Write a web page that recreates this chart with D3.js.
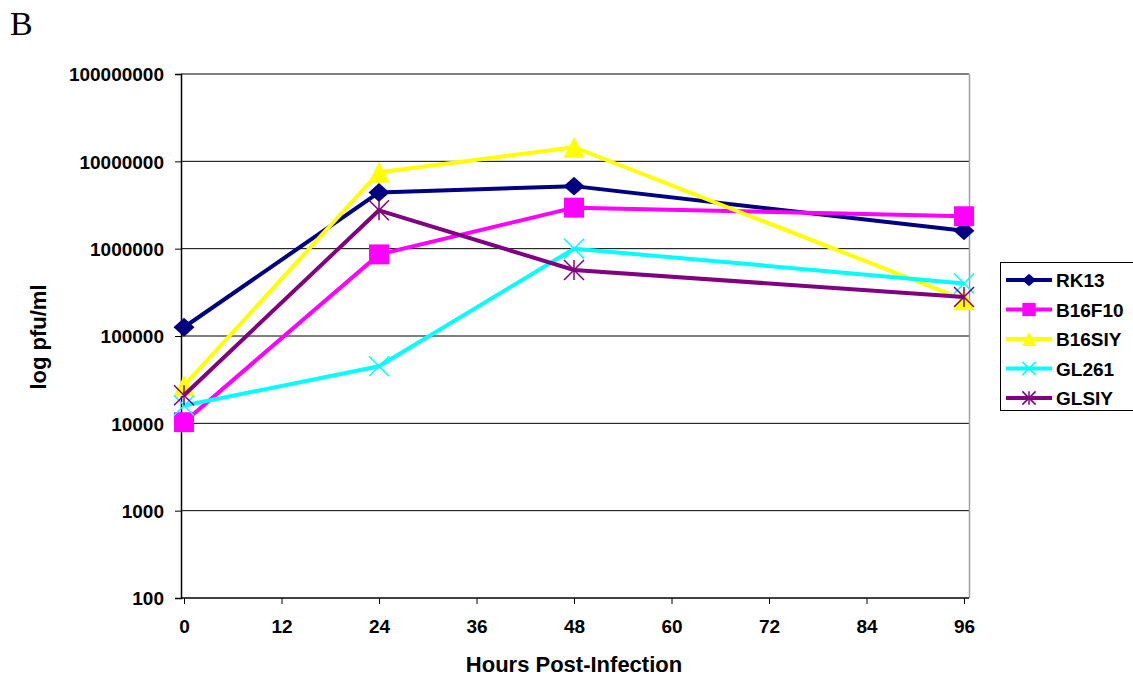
<!DOCTYPE html>
<html>
<head>
<meta charset="utf-8">
<script src="https://cdn.jsdelivr.net/npm/d3@7"></script>
<style>
  body { margin: 0; background: #fff; }
  text { font-family: "Liberation Sans", Arial, sans-serif; font-weight: bold; fill: #000; }
</style>
</head>
<body>
<svg id="chart" width="1133" height="678"></svg>
<script>
// data
var hours = [0, 24, 48, 96];
var seriesNames = ["RK13", "B16F10", "B16SIY", "GL261", "GLSIY"];
var seriesColors = ["#000080", "#ff00ff", "#ffff00", "#00ffff", "#800080"];
var seriesMarkers = ["diamond", "square", "triangle", "cross", "star"];
var rk13 = [126000, 4400000, 5200000, 1600000];
var b16f10 = [10300, 860000, 2950000, 2350000];
var b16siy = [27000, 7500000, 14500000, 260000];
var gl261 = [16000, 45000, 1000000, 400000];
var glsiy = [21000, 2750000, 570000, 280000];
var seriesValues = [rk13, b16f10, b16siy, gl261, glsiy];
var xTicks = [0, 12, 24, 36, 48, 60, 72, 84, 96];
var yTicks = [100, 1000, 10000, 100000, 1000000, 10000000, 100000000];

var svg = d3.select("#chart");

var x = d3.scaleLinear().domain([0, 96]).range([184, 964]);
var y = d3.scaleLog().domain([100, 100000000]).range([598, 74]);
var plotLeft = 181, plotRight = 969;

// panel letter
svg.append("text")
	.attr("x", 10).attr("y", 35)
	.style("font-family", "'Liberation Serif', 'Times New Roman', serif")
	.style("font-weight", "normal")
	.style("font-size", "34px")
	.text("B");

// gridlines
svg.append("g").selectAll("line")
	.data(yTicks.slice(1))
	.enter().append("line")
	.attr("x1", plotLeft).attr("x2", plotRight)
	.attr("y1", function(d) { return y(d); })
	.attr("y2", function(d) { return y(d); })
	.attr("stroke", "#000").attr("stroke-width", 1);

// right border of plot area
svg.append("line")
	.attr("x1", plotRight + 0.5).attr("x2", plotRight + 0.5)
	.attr("y1", y(1e8)).attr("y2", y(100))
	.attr("stroke", "#a0a0a0").attr("stroke-width", 1.5);

// y axis
var yAxis = d3.axisLeft(y)
	.tickValues(yTicks)
	.tickFormat(d3.format("d"))
	.tickSize(6)
	.tickPadding(11);
var gy = svg.append("g").attr("transform", "translate(" + plotLeft + ",0)").call(yAxis);
gy.select(".domain").attr("stroke", "#000").attr("stroke-width", 1.5);
gy.selectAll(".tick line").attr("stroke", "#000");
gy.selectAll(".tick text")
	.style("font-size", "19px")
	.attr("dy", "0.36em");

// x axis
var xAxis = d3.axisBottom(x)
	.tickValues(xTicks)
	.tickSizeInner(6)
	.tickSizeOuter(0)
	.tickPadding(16);
var gx = svg.append("g").attr("transform", "translate(0," + y(100) + ")").call(xAxis);
gx.select(".domain").attr("stroke", "#000").attr("stroke-width", 1.5)
	.attr("d", "M" + plotLeft + ",0H" + plotRight);
gx.selectAll(".tick line").attr("stroke", "#000");
gx.selectAll(".tick text")
	.style("font-size", "19px");

// axis titles
svg.append("text")
	.attr("x", 574).attr("y", 672)
	.attr("text-anchor", "middle")
	.style("font-size", "22px")
	.text("Hours Post-Infection");

svg.append("text")
	.attr("transform", "translate(46,337) rotate(-90)")
	.attr("text-anchor", "middle")
	.style("font-size", "22px")
	.text("log pfu/ml");

// marker drawing
function drawMarker(g, type, cx, cy, s, color) {
	var h = s / 2;
	if(type == "diamond") {
		g.append("path")
			.attr("d", "M" + cx + "," + (cy - h * 0.9) + "L" + (cx + h) + "," + cy + "L" + cx + "," + (cy + h * 0.9) + "L" + (cx - h) + "," + cy + "Z")
			.attr("fill", color);
	}
	if(type == "square") {
		g.append("rect")
			.attr("x", cx - h * 0.95).attr("y", cy - h * 0.95)
			.attr("width", h * 1.9).attr("height", h * 1.9)
			.attr("fill", color);
	}
	if(type == "triangle") {
		g.append("path")
			.attr("d", "M" + cx + "," + (cy - h) + "L" + (cx + h) + "," + (cy + h) + "L" + (cx - h) + "," + (cy + h) + "Z")
			.attr("fill", color);
	}
	if(type == "cross" || type == "star") {
		var k = h * 0.95;
		g.append("path")
			.attr("d", "M" + (cx - k) + "," + (cy - k) + "L" + (cx + k) + "," + (cy + k) + "M" + (cx + k) + "," + (cy - k) + "L" + (cx - k) + "," + (cy + k))
			.attr("stroke", color).attr("stroke-width", 1.5).attr("fill", "none");
		if(type == "star") {
			g.append("path")
				.attr("d", "M" + cx + "," + (cy - k) + "L" + cx + "," + (cy + k))
				.attr("stroke", color).attr("stroke-width", 1.5);
		}
	}
}

// series
var line = d3.line()
	.x(function(d) { return x(d[0]); })
	.y(function(d) { return y(d[1]); });

seriesValues.forEach(function(vals, i) {
	var pts = hours.map(function(h, j) { return [h, vals[j]]; });
	var g = svg.append("g");
	g.append("path")
		.datum(pts)
		.attr("d", line)
		.attr("fill", "none")
		.attr("stroke", seriesColors[i])
		.attr("stroke-width", 4)
		.attr("stroke-linejoin", "round");
	pts.forEach(function(p) {
		drawMarker(g, seriesMarkers[i], x(p[0]), y(p[1]), 21, seriesColors[i]);
	});
});

// legend
var legend = svg.append("g");
legend.append("rect")
	.attr("x", 1000.5).attr("y", 262.5)
	.attr("width", 150).attr("height", 148)
	.attr("fill", "#fff").attr("stroke", "#000").attr("stroke-width", 1);

seriesNames.forEach(function(name, i) {
	var cy = 280 + i * 29.5;
	legend.append("line")
		.attr("x1", 1006).attr("x2", 1052)
		.attr("y1", cy).attr("y2", cy)
		.attr("stroke", seriesColors[i]).attr("stroke-width", 4);
	drawMarker(legend, seriesMarkers[i], 1029, cy, 14, seriesColors[i]);
	legend.append("text")
		.attr("x", 1056).attr("y", cy + 7)
		.style("font-size", "19px")
		.text(name);
});
</script>
</body>
</html>
